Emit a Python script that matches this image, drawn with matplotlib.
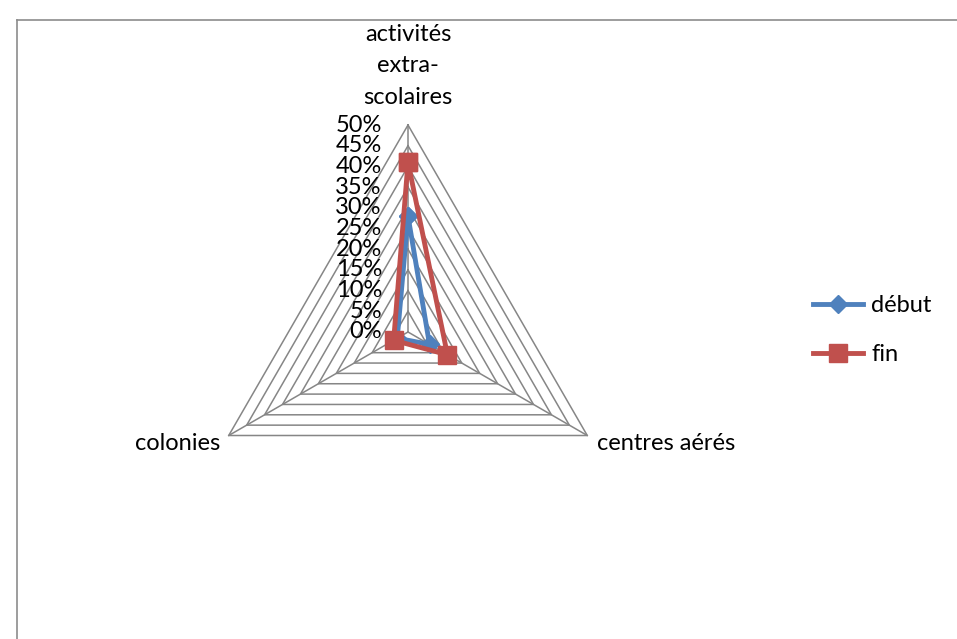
import numpy as np
import matplotlib
matplotlib.use("Agg")
import matplotlib.pyplot as plt
from matplotlib.lines import Line2D

categories = ["activités\nextra-\nscolaires", "centres aérés", "colonies"]
debut = [28, 6, 3]
fin = [41, 11, 4]
ticks = [0, 5, 10, 15, 20, 25, 30, 35, 40, 45, 50]
tick_labels = ["0%", "5%", "10%", "15%", "20%", "25%", "30%", "35%", "40%", "45%", "50%"]

W, H = 957, 639
fig = plt.figure(figsize=(W / 100, H / 100), dpi=100)
plt.rcParams['font.family'] = ['Lato', 'DejaVu Sans']
FS = 17

# chart border
fig.add_artist(Line2D([17 / W, 17 / W], [0, 1 - 20 / H], color="#8c8c8c", lw=1.2))
fig.add_artist(Line2D([17 / W, 1], [1 - 20 / H, 1 - 20 / H], color="#8c8c8c", lw=1.2))

# axes: centre at pixel (408, 332), 50% radius = 207 px
ppu = 207 / 50
left_px, right_px, top_px, bot_px = 158, 658, 100, 560
ax = fig.add_axes([left_px / W, 1 - bot_px / H, (right_px - left_px) / W, (bot_px - top_px) / H])
ax.set_xlim(-(408 - left_px) / ppu, (right_px - 408) / ppu)
ax.set_ylim(-(bot_px - 332) / ppu, (332 - top_px) / ppu)
ax.axis("off")

angles = np.deg2rad([90, -30, 210])

def xy(vals):
    v = np.asarray(vals, float)
    return v * np.cos(angles), v * np.sin(angles)

grid_col = "#868686"
for t in ticks[1:]:
    gx, gy = xy([t, t, t])
    ax.plot(np.append(gx, gx[0]), np.append(gy, gy[0]), color=grid_col, lw=1.1, zorder=1)
for a in angles:
    ax.plot([0, 50 * np.cos(a)], [0, 50 * np.sin(a)], color=grid_col, lw=1.1, zorder=1)

for t, lab in zip(ticks, tick_labels):
    ax.text(-6.3, t, lab, ha="right", va="center", fontsize=FS, color="black", clip_on=False)

dx, dy = xy(debut)
ax.plot(np.append(dx, dx[0]), np.append(dy, dy[0]), color="#4F81BD", lw=3.5, marker="D",
        markersize=9, zorder=3, solid_joinstyle="round")
fx, fy = xy(fin)
ax.plot(np.append(fx, fx[0]), np.append(fy, fy[0]), color="#C0504D", lw=3.5, marker="s",
        markersize=13, zorder=4, solid_joinstyle="round")

# category labels
fig.text(408 / W, 1 - 66 / H, categories[0], ha="center", va="center", fontsize=FS,
         linespacing=1.6)
fig.text(597 / W, 1 - 443 / H, categories[1], ha="left", va="center", fontsize=FS)
fig.text(220 / W, 1 - 443 / H, categories[2], ha="right", va="center", fontsize=FS)

handles = [Line2D([], [], color="#4F81BD", lw=3.5, marker="D", markersize=9),
           Line2D([], [], color="#C0504D", lw=3.5, marker="s", markersize=13)]
fig.legend(handles, ["début", "fin"], loc="center left", bbox_to_anchor=(792 / W, 1 - 330 / H),
           frameon=False, fontsize=FS, handlelength=2.1, handletextpad=0.35, labelspacing=1.2)

fig.savefig("out.png", dpi=100)
